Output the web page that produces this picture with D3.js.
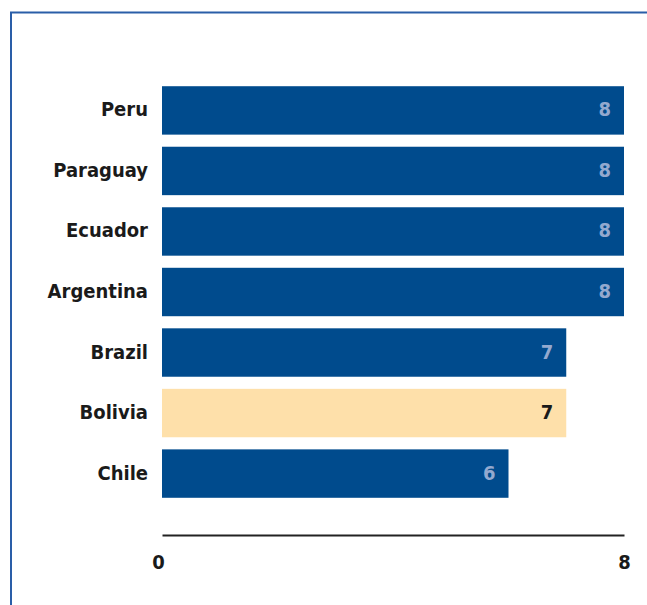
<!DOCTYPE html>
<html>
<head>
<meta charset="utf-8">
<script src="https://cdn.jsdelivr.net/npm/d3@7"></script>
<style>
  body { margin: 0; background: #fff; }
  svg text { font-family: "DejaVu Sans Condensed", "Liberation Sans Narrow", sans-serif; font-weight: bold; }
</style>
</head>
<body>
<svg width="647" height="605"></svg>
<script>
const svg = d3.select("svg"),
  width = +svg.attr("width"),
  height = +svg.attr("height");

// Data
const countries = ["Peru", "Paraguay", "Ecuador", "Argentina", "Brazil", "Bolivia", "Chile"];
const values = [8, 8, 8, 8, 7, 7, 6];
const highlight = ["Bolivia"];
const xTicks = [0, 8];

const data = countries.map((c, i) => ({ country: c, value: values[i] }));

// frame (left + top rule)
svg.append("path")
  .attr("d", `M11,605 V12.5 H647`)
  .attr("fill", "none")
  .attr("stroke", "#2a5ea8")
  .attr("stroke-width", 2);

// Scales
const x = d3.scaleLinear().domain([0, 8]).range([162, 624]);
const y = d3.scaleBand().domain(countries).range([85, 499]).paddingInner(0.2).paddingOuter(0.02);

// Bars
svg.append("g")
  .selectAll("rect")
  .data(data)
  .join("rect")
  .attr("x", x(0))
  .attr("y", d => y(d.country))
  .attr("width", d => x(d.value) - x(0))
  .attr("height", y.bandwidth())
  .attr("fill", d => highlight.includes(d.country) ? "#fee0aa" : "#004b8d");

// Value labels
svg.append("g")
  .selectAll("text")
  .data(data)
  .join("text")
  .attr("x", d => x(d.value) - 13)
  .attr("y", d => y(d.country) + y.bandwidth() / 2)
  .attr("dy", "0.3em")
  .attr("text-anchor", "end")
  .attr("font-size", 20)
  .attr("fill", d => highlight.includes(d.country) ? "#1a1a1a" : "#93a9cf")
  .text(d => d.value);

// Category labels
svg.append("g")
  .selectAll("text")
  .data(data)
  .join("text")
  .attr("x", 148)
  .attr("y", d => y(d.country) + y.bandwidth() / 2)
  .attr("dy", "0.3em")
  .attr("text-anchor", "end")
  .attr("font-size", 20)
  .attr("fill", "#1a1a1a")
  .text(d => d.country);

// X axis
const xAxis = svg.append("g")
  .attr("transform", "translate(0,535)")
  .call(d3.axisBottom(x).tickValues(xTicks).tickSize(0).tickPadding(20));
xAxis.select(".domain").attr("stroke", "#222").attr("stroke-width", 2);
xAxis.selectAll("text")
  .attr("font-size", 20)
  .attr("fill", "#1a1a1a")
  .attr("font-family", null);
xAxis.selectAll(".tick text").filter(d => d === 0).attr("dx", -4);
</script>
</body>
</html>
